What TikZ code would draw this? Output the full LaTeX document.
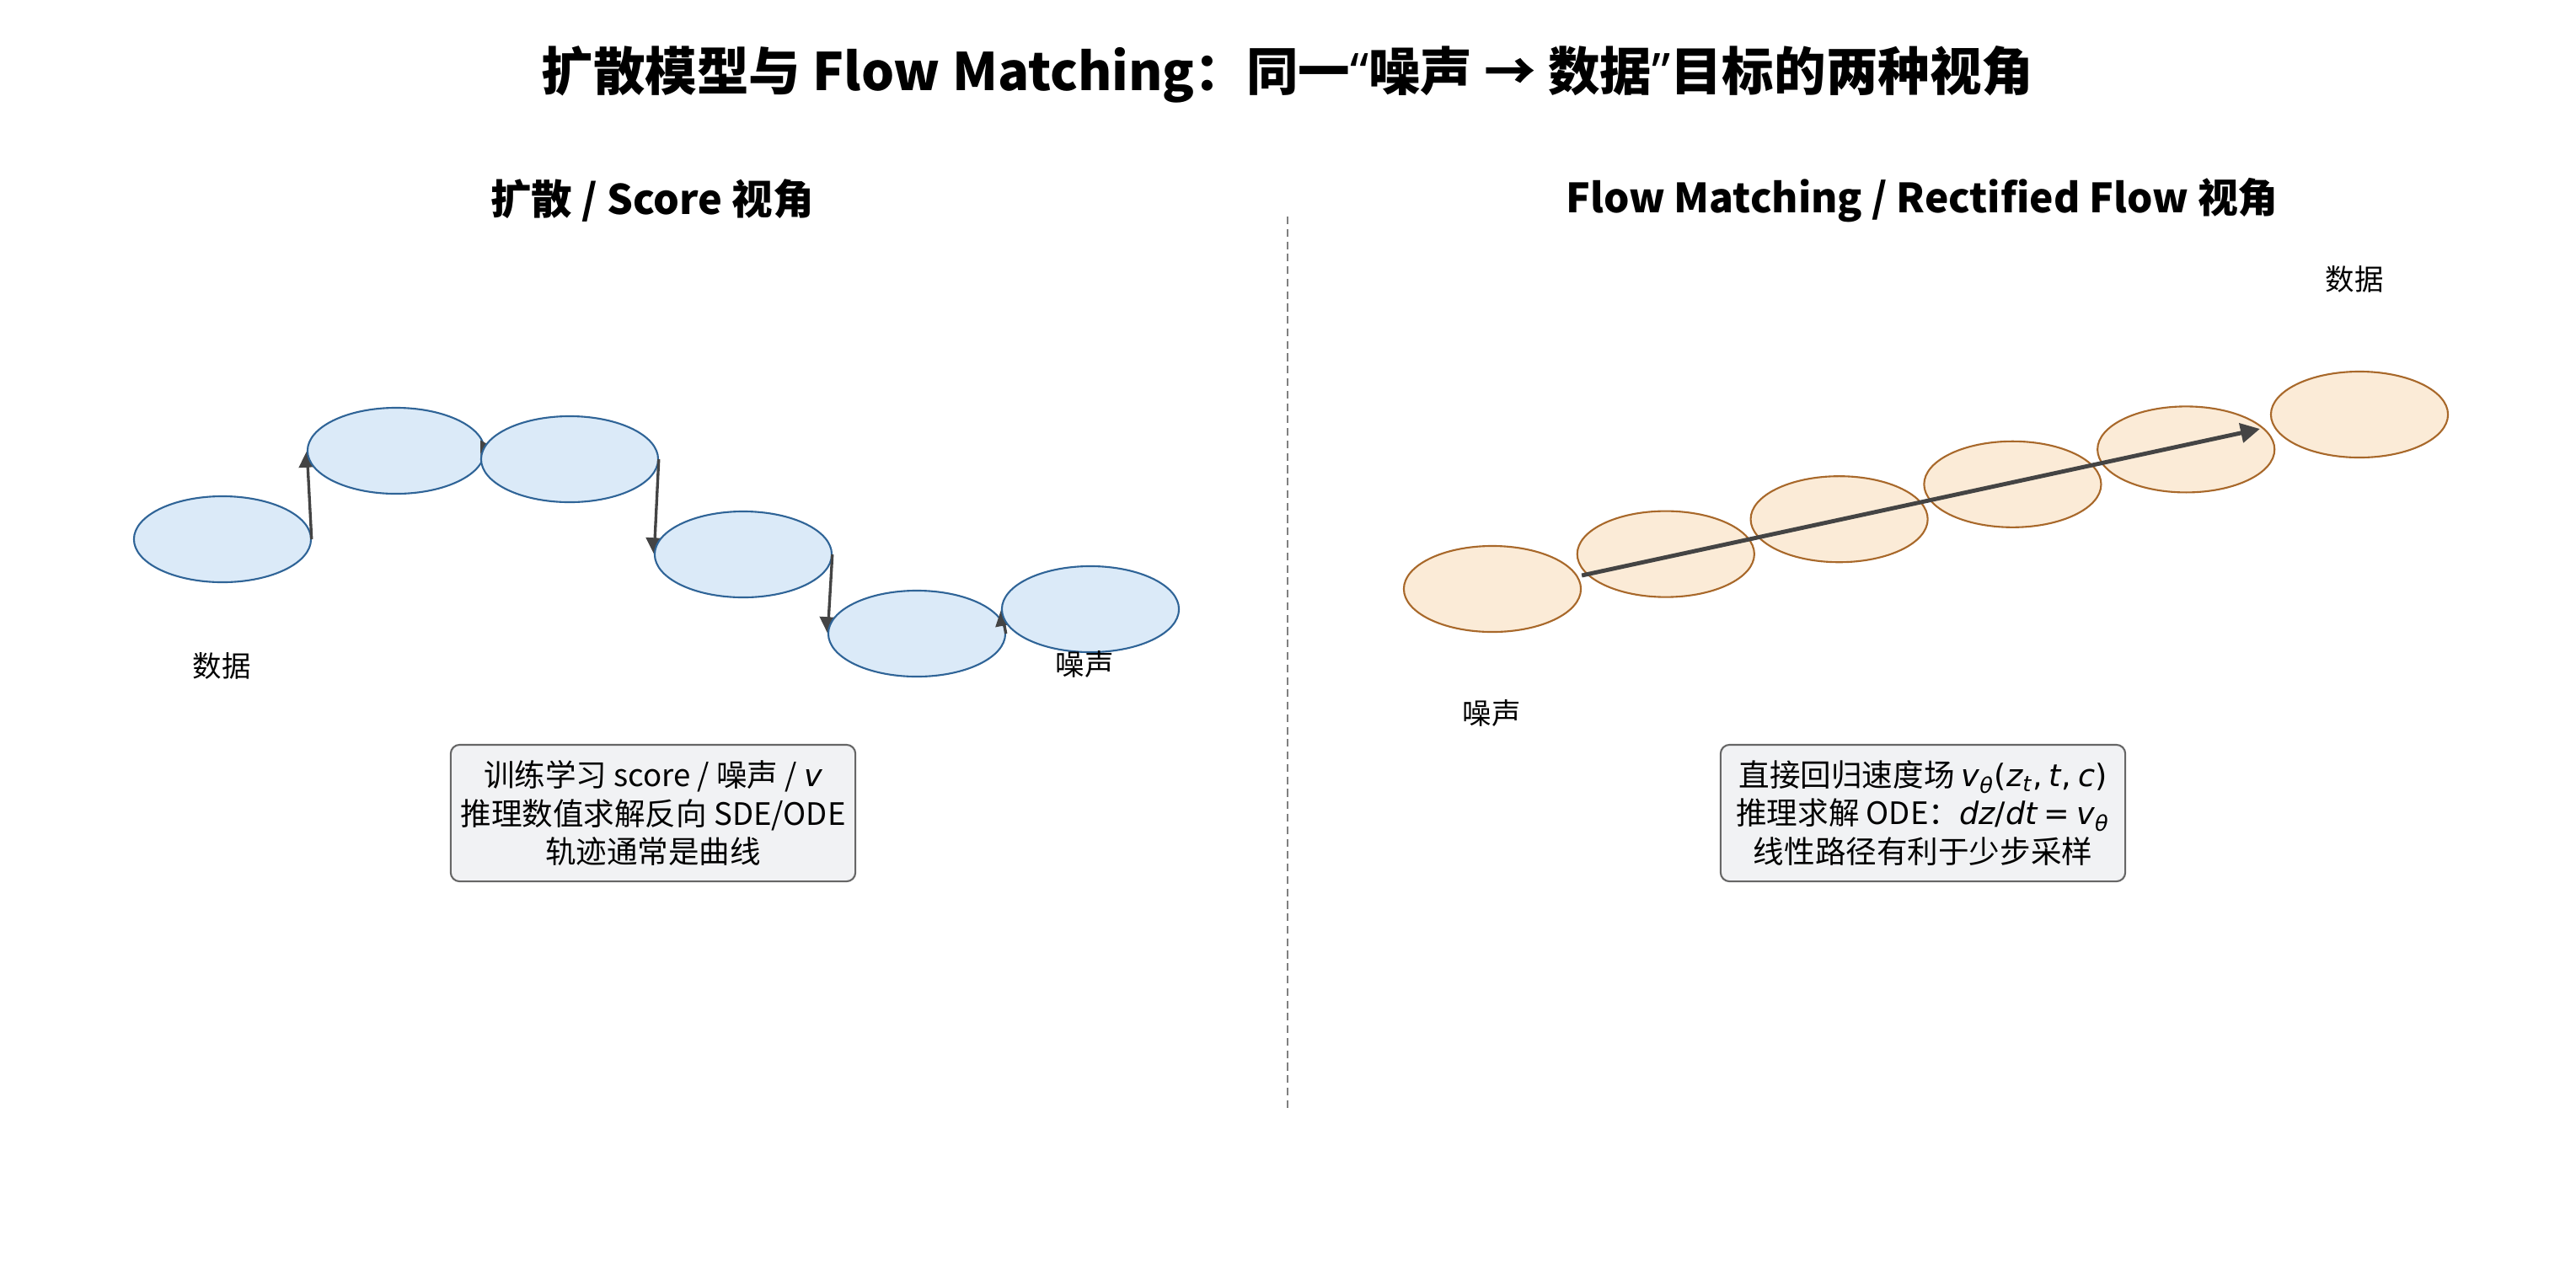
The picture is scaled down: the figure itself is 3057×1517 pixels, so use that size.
\documentclass[tikz,border=0pt]{standalone}
\usepackage{fontspec}
\setmainfont{Noto Sans CJK SC}
\newfontfamily\dejavu{DejaVu Sans}
\newfontfamily\latinsans{Noto Sans}
\usetikzlibrary{arrows.meta,positioning,shapes.geometric}

\definecolor{scorefill}{HTML}{DBEAF8}
\definecolor{scoreline}{HTML}{2F6497}
\definecolor{flowfill}{HTML}{FBEBD7}
\definecolor{flowline}{HTML}{A8682A}
\definecolor{arrowgray}{HTML}{444444}
\definecolor{notefill}{HTML}{F1F2F4}
\definecolor{noteline}{HTML}{666666}

\newcommand\mi[1]{{\dejavu\itshape #1}}
\newcommand\mr[1]{{\dejavu #1}}
\newcommand\quotemark[1]{{\latinsans\bfseries #1}}

\begin{document}
\begin{tikzpicture}[x=0.01cm,y=-0.01cm,
	blobshape/.style={ellipse,inner sep=0pt,minimum width=2.1cm,minimum height=1.02cm},
	blob/.style={blobshape,draw,line width=0.6pt},
	scoreblob/.style={blob,fill=scorefill,draw=scoreline},
	flowblob/.style={blob,fill=flowfill,draw=flowline},
	scorearrow/.style={-{Triangle[length=5.6pt,width=6pt]},arrowgray,line width=0.95pt},
	flowarrow/.style={-{Triangle[length=6.5pt,width=6.5pt]},arrowgray,line width=1.4pt},
	notebox/.style={draw=noteline,fill=notefill,rounded corners=3pt,line width=0.6pt,align=center,
		font=\fontsize{10.4}{12.9}\selectfont,minimum width=4.8cm,minimum height=1.62cm,inner sep=2pt},
	lbl/.style={font=\fontsize{9.8}{12}\selectfont}]

		\useasboundingbox (0,0) rectangle (3057,1517);

		% titles
		\node (title) at (1528,88) {\fontsize{17.5}{20}\selectfont\bfseries 扩散模型与 Flow Matching：同一\quotemark{“}噪声 → 数据\quotemark{”}目标的两种视角};
		\node (score_title) at (774,238) {\fontsize{13.8}{16}\selectfont\bfseries 扩散 / Score 视角};
		\node (flow_title) at (2281,238) {\fontsize{13.6}{16}\selectfont\bfseries Flow Matching / Rectified Flow 视角};

		% divider
		\coordinate (div_top) at (1528,257);
		\coordinate (div_bot) at (1528,1316);
		\draw[gray,line width=0.5pt,dash pattern=on 2.6pt off 1.6pt] (div_top) -- (div_bot);

		% left: curved score path (each step: arrow in, then the blob on top of it)
		\foreach \i/\y in {1/640,2/535,3/545,4/658,5/752,6/723}
			\path node[blobshape] (d_\i) at ({264+206*(\i-1)},\y) {};
		\foreach \i in {1,...,6} {
			\ifnum\i>1
				\pgfmathtruncatemacro\prev{\i-1}
				\draw[scorearrow] (d_\prev.east) -- (d_\i.west);
			\fi
			\node[scoreblob] at (d_\i.center) {};
		}

		\node[lbl] (d_data) at (263,790) {数据};
		\node[lbl] (d_noise) at (1287,788) {噪声};

		% right: straight flow path
		\foreach \i in {1,...,6}
			\node[flowblob] (f_\i) at ({1771+205.8*(\i-1)},{699-41.4*(\i-1)}) {};
		\draw[flowarrow] ([yshift=0.16cm]f_1.east) -- ([xshift=-0.12cm,yshift=-0.17cm]f_6.west);

		\node[lbl] (f_noise) at (1770,846) {噪声};
		\node[lbl] (f_data) at (2794,331) {数据};

		% notes
		\node[notebox] (score_note) at (775,965) {训练学习 score / 噪声 / \mi{v}\\推理数值求解反向 SDE/ODE\\轨迹通常是曲线};
		\node[notebox] (flow_note) at (2282,965) {直接回归速度场 \mi{v}\textsubscript{\mi{θ}}\mr{(}\mi{z}\textsubscript{\mi{t}}\mr{,} \mi{t}\mr{,} \mi{c}\mr{)}\\
			推理求解 ODE：\mi{dz}\mr{/}\mi{dt} \mr{=} \mi{v}\textsubscript{\mi{θ}}\\线性路径有利于少步采样};

		\end{tikzpicture}
\end{document}
